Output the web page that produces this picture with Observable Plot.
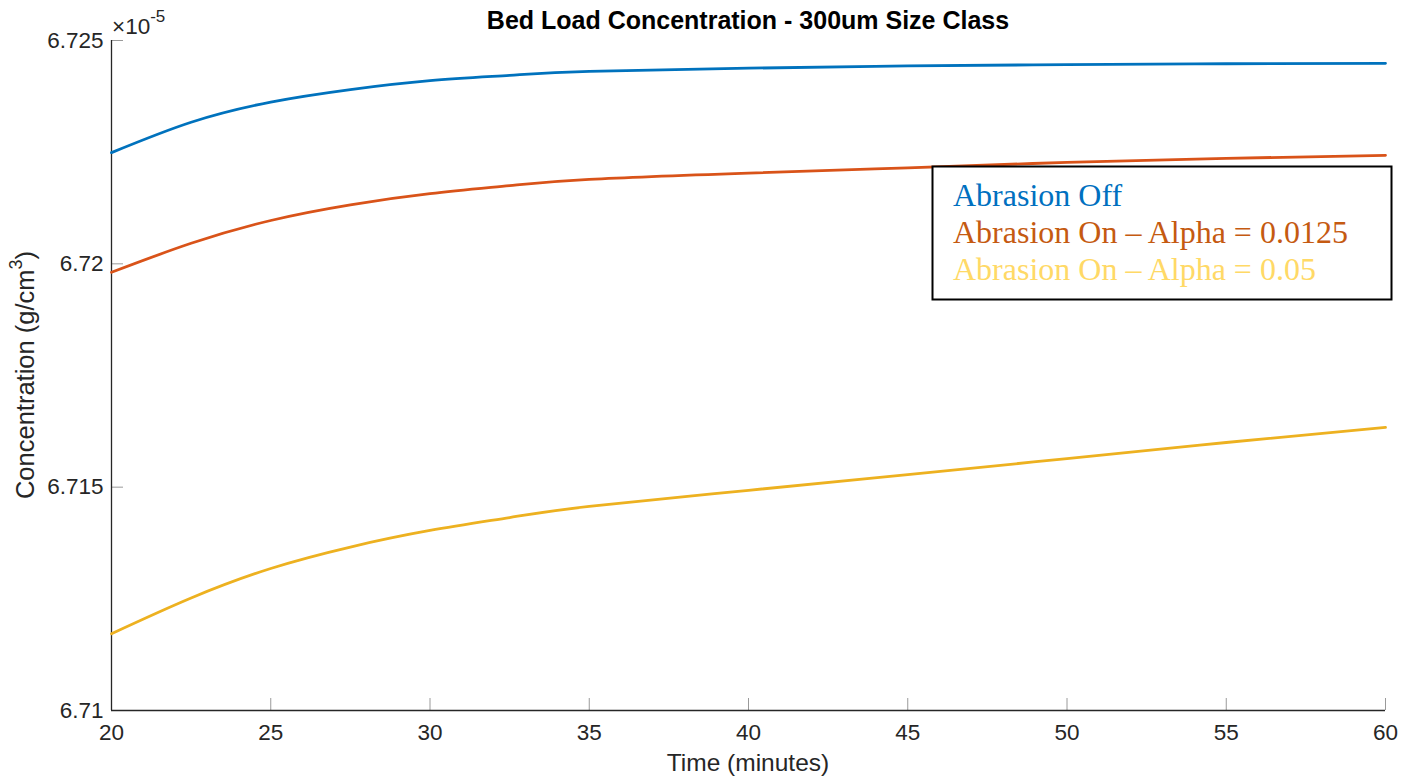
<!DOCTYPE html>
<html>
<head>
<meta charset="utf-8">
<script src="https://cdn.jsdelivr.net/npm/d3@7"></script>
<script src="https://cdn.jsdelivr.net/npm/@observablehq/plot@0.6"></script>
<style>
  html, body { margin: 0; padding: 0; background: #fff; }
  #chart { width: 1413px; height: 780px; }
</style>
</head>
<body>
<div id="chart"></div>
<script>
// Time (minutes)
const times = [20, 22.5, 25, 27.5, 30, 32.5, 35, 40, 45, 50, 55, 60];
// Concentration values, in units of 1e-5 g/cm^3
const abrasionOff = [6.72249, 6.72317, 6.72362, 6.72390, 6.72410, 6.72422, 6.72431, 6.72438, 6.72443, 6.72446, 6.72448, 6.72449];
const alpha0125   = [6.71981, 6.72046, 6.72097, 6.72132, 6.72157, 6.72175, 6.72189, 6.72203, 6.72215, 6.72227, 6.72236, 6.72243];
const alpha05     = [6.71172, 6.71252, 6.71318, 6.71366, 6.71403, 6.71432, 6.71457, 6.71493, 6.71528, 6.71564, 6.71600, 6.71634];

const seriesNames = ["Abrasion Off", "Abrasion On \u2013 Alpha = 0.0125", "Abrasion On \u2013 Alpha = 0.05"];
const seriesValues = [abrasionOff, alpha0125, alpha05];
const lineColors = ["#0072BD", "#D95319", "#EDB120"];
const legendTextColors = ["#0070C0", "#C55A11", "#FFD966"];

const xTicks = [20, 25, 30, 35, 40, 45, 50, 55, 60];
const yTicks = [6.71, 6.715, 6.72, 6.725];

const titleText = "Bed Load Concentration - 300um Size Class";
const xLabel = "Time (minutes)";
const yLabelMain = "Concentration (g/cm";
const yLabelSup = "3";
const yLabelEnd = ")";

const rows = [];
seriesNames.forEach((name, i) => {
  times.forEach((t, j) => rows.push({series: name, time: t, value: seriesValues[i][j]}));
});

const W = 1413, H = 780;
const mL = 111, mR = 28, mT = 40, mB = 70;
const axisColor = "#262626";
const font = "'Liberation Sans', Arial, Helvetica, sans-serif";

const svg = Plot.plot({
  width: W,
  height: H,
  marginLeft: mL,
  marginRight: mR,
  marginTop: mT,
  marginBottom: mB,
  style: {fontFamily: font, fontSize: "22.5px", color: axisColor, background: "#fff"},
  x: {domain: [20, 60]},
  y: {domain: [6.71, 6.725]},
  color: {domain: seriesNames, range: lineColors},
  marks: [
    Plot.axisX({ticks: xTicks, tickSize: -12, tickPadding: 26, fontSize: 22.5, stroke: "#9a9a9a", fill: axisColor, label: null, tickFormat: d => String(d)}),
    Plot.axisY({ticks: yTicks, tickSize: -12, tickPadding: 20, fontSize: 22.5, stroke: "#9a9a9a", fill: axisColor, label: null, tickFormat: d => String(+d.toFixed(3))}),
    Plot.ruleX([20], {stroke: axisColor, strokeWidth: 1.3}),
    Plot.ruleY([6.71], {stroke: axisColor, strokeWidth: 1.3}),
    Plot.line(rows, {x: "time", y: "value", stroke: "series", z: "series", strokeWidth: 2.8, curve: "natural"})
  ]
});

const root = d3.select(svg);
const cx = (mL + (W - mR)) / 2;
const cy = (mT + (H - mB)) / 2;

// Title
root.append("text")
  .attr("x", cx).attr("y", 29)
  .attr("text-anchor", "middle")
  .attr("font-family", font).attr("font-weight", "bold").attr("font-size", 25)
  .attr("fill", "#000")
  .text(titleText);

// Exponent label
const ex = root.append("text")
  .attr("x", mL + 1).attr("y", 34)
  .attr("text-anchor", "start")
  .attr("font-family", font).attr("font-size", 22.5)
  .attr("fill", axisColor);
ex.append("tspan").text("\u00d710");
ex.append("tspan").attr("dy", -12).attr("font-size", 17).text("-5");

// X label
root.append("text")
  .attr("x", cx).attr("y", 771)
  .attr("text-anchor", "middle")
  .attr("font-family", font).attr("font-size", 24.5)
  .attr("fill", axisColor)
  .text(xLabel);

// Y label
const yl = root.append("text")
  .attr("transform", `translate(34,${cy}) rotate(-90)`)
  .attr("text-anchor", "middle")
  .attr("font-family", font).attr("font-size", 25.5)
  .attr("fill", axisColor);
yl.append("tspan").text(yLabelMain);
yl.append("tspan").attr("dy", -12).attr("font-size", 18).text(yLabelSup);
yl.append("tspan").attr("dy", 12).text(yLabelEnd);

// Legend box
const lg = root.append("g").attr("text-anchor", "start");
lg.append("rect")
  .attr("x", 932.5).attr("y", 166.5).attr("width", 459).attr("height", 133)
  .attr("fill", "#fff").attr("stroke", "#000").attr("stroke-width", 2);
seriesNames.forEach((name, i) => {
  lg.append("text")
    .attr("x", 953).attr("y", 206 + i * 37)
    .attr("text-anchor", "start")
    .attr("font-family", "'Liberation Serif', 'Times New Roman', serif")
    .attr("font-size", 32)
    .attr("fill", legendTextColors[i])
    .text(name);
});

document.getElementById("chart").appendChild(svg);
</script>
</body>
</html>
